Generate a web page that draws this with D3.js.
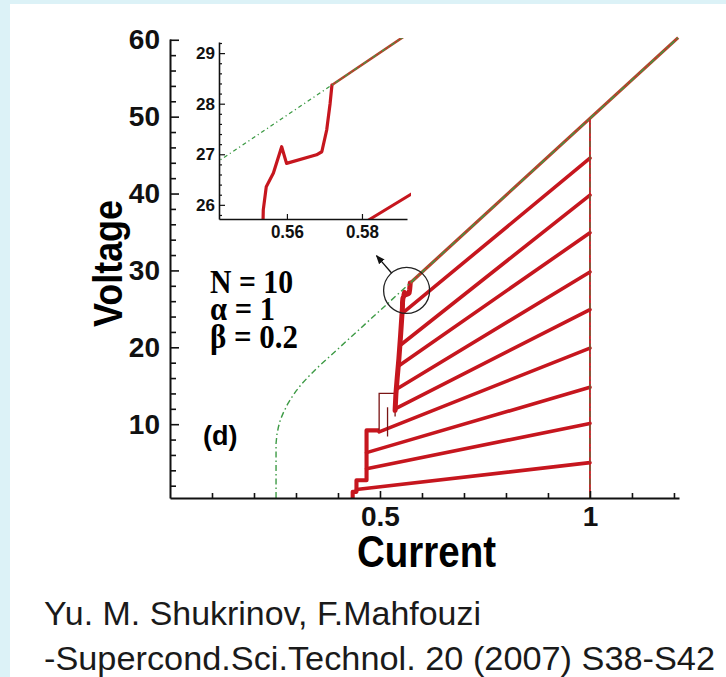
<!DOCTYPE html>
<html>
<head>
<meta charset="utf-8">
<script src="https://cdn.jsdelivr.net/npm/d3@7"></script>
<style>
body { margin: 0; background: #fff; }
svg { display: block; }
</style>
</head>
<body>
<div id="chart"></div>
<script>
// values (N = 10, alpha = 1, beta = 0.2)
let currentTicks = [0.5, 1];
let currentMinor = [0.1, 0.2, 0.3, 0.4, 0.6, 0.7, 0.8, 0.9, 1.1, 1.2];
let voltageTicks = [10, 20, 30, 40, 50, 60];
let voltageMinor = [2, 4, 6, 8, 12, 14, 16, 18, 22, 24, 26, 28, 32, 34, 36, 38, 42, 44, 46, 48, 52, 54, 56, 58];

let insetCurrentTicks = [0.56, 0.58];
let insetVoltageTicks = [26, 27, 28, 29];
let insetVoltageMinor = [25.8, 26.2, 26.4, 26.6, 26.8, 27.2, 27.4, 27.6, 27.8, 28.2, 28.4, 28.6, 28.8, 29.2];

// inner branches (k = 1..9 resistive junctions): start point and value at I = 1
let branchStartI = [0.444, 0.468, 0.468, 0.498, 0.536, 0.541, 0.545, 0.549, 0.553];
let branchStartV = [1.5, 4.2, 6.3, 9.0, 12.0, 14.6, 17.6, 20.3, 24.4];
let branchEndI = 1.0;
let branchEndV = [5.0, 10.1, 14.8, 19.9, 24.9, 29.8, 34.9, 39.8, 44.6];

// thick staircase at the bottom of the fan
let stairI = [0.435, 0.435, 0.444, 0.444, 0.468, 0.468, 0.498];
let stairV = [0.4, 1.2, 1.2, 2.7, 2.7, 9.2, 9.2];

// thin jumps
let thinI = [[0.498, 0.498, 0.536], [0.518, 0.518], [0.536, 0.536]];
let thinV = [[9.2, 14.0, 14.0], [8.4, 12.2], [11.0, 14.0]];

// thick streak up to the outer branch (detail shown in the inset)
let streakI = [0.536, 0.538, 0.541, 0.545, 0.549, 0.552, 0.5535, 0.5537, 0.5545, 0.5555, 0.5564, 0.5586, 0.5599, 0.5679, 0.5693, 0.5706, 0.5715, 0.572];
let streakV = [11.8, 14.0, 16.0, 18.5, 21.5, 24.0, 25.2, 25.9, 26.36, 26.5, 26.63, 27.15, 26.82, 26.99, 27.05, 27.48, 28.0, 28.37];

// outer branch (all junctions resistive) and the return at I = 1
let outerI = [0.572, 1.0, 1.21];
let outerV = [28.37, 49.77, 60.27];
let edgeI = [1.0, 1.0];
let edgeV = [0.4, 49.77];

// decreasing-current sweep (green dash-dot)
let greenI = [0.2525, 0.2525, 0.2545, 0.258, 0.263, 0.27, 0.28, 0.29, 0.30, 0.313, 0.33, 0.35, 0.5405, 0.572, 1.0, 1.21];
let greenV = [0.4, 7.5, 8.6, 9.6, 10.6, 11.5, 12.6, 13.5, 14.3, 15.2, 16.2, 17.3, 26.8, 28.37, 49.77, 60.27];

let width = 726;
let height = 677;
let red = '#c6161e';
let green = '#3d9a45';
let sans = '"Liberation Sans", Arial, sans-serif';
let serif = '"Liberation Serif", "Times New Roman", serif';

let svg = d3.select('#chart').append('svg')
    .attr('width', width)
    .attr('height', height)
    .style('font-family', sans);

svg.append('rect').attr('width', width).attr('height', height).attr('fill', '#dcf2f7');
svg.append('rect').attr('x', 10).attr('y', 4).attr('width', width - 10).attr('height', height - 4).attr('fill', '#fff');

let x = d3.scaleLinear().domain([0, 1.212]).range([170, 679]);
let y = d3.scaleLinear().domain([0.4, 60.1]).range([498, 39]);

function zip(a, b) { return a.map((v, i) => [v, b[i]]); }

function drawCurves(g, sx, sy, w) {
    let line = d3.line().x(d => sx(d[0])).y(d => sy(d[1]));

    // red vertical at I = 1
    g.append('path').attr('d', line(zip(edgeI, edgeV)))
        .attr('fill', 'none').attr('stroke', red).attr('stroke-width', 1.8);

    for (let k = 0; k < branchStartI.length; k++) {
        g.append('path')
            .attr('d', line([[branchStartI[k], branchStartV[k]], [branchEndI, branchEndV[k]]]))
            .attr('fill', 'none').attr('stroke', red)
            .attr('stroke-width', w.branch).attr('stroke-linecap', 'round');
    }
    g.append('path').attr('d', line(zip(stairI, stairV)))
        .attr('fill', 'none').attr('stroke', red).attr('stroke-width', w.branch + 0.5)
        .attr('stroke-linejoin', 'round');
    thinI.forEach((seg, i) => {
        g.append('path').attr('d', line(zip(seg, thinV[i])))
            .attr('fill', 'none').attr('stroke', '#7a1414').attr('stroke-width', 1.3);
    });
    g.append('path').attr('d', line(zip(streakI, streakV)))
        .attr('fill', 'none').attr('stroke', red).attr('stroke-width', w.streak)
        .attr('stroke-linejoin', 'round').attr('stroke-linecap', 'round');
    g.append('path').attr('d', line(zip(outerI, outerV)))
        .attr('fill', 'none').attr('stroke', '#b4432a').attr('stroke-width', w.branch - 0.4);

    // green dash-dot on top
    g.append('path').attr('d', line(zip(greenI, greenV)))
        .attr('fill', 'none').attr('stroke', green).attr('stroke-width', w.green)
        .attr('stroke-dasharray', w.dash);
    g.append('path').attr('d', line(zip(edgeI, edgeV)))
        .attr('fill', 'none').attr('stroke', '#4f7a3a').attr('stroke-width', 1.1)
        .attr('stroke-dasharray', w.dash);
}

// main plot curves
drawCurves(svg.append('g'), x, y, {branch: 3.6, streak: 5, green: 1.4, dash: '6,3,1.5,3'});

// axes (ticks inward)
svg.append('g').attr('class', 'main').attr('transform', 'translate(170,0)')
    .call(d3.axisLeft(y).tickValues(voltageTicks).tickSizeInner(-9).tickSizeOuter(0).tickPadding(10)
        .tickFormat(d3.format('d')));
svg.append('g').attr('class', 'main').attr('transform', 'translate(170,0)')
    .call(d3.axisLeft(y).tickValues(voltageMinor).tickSizeInner(-6).tickSizeOuter(0).tickFormat(''))
    .select('.domain').remove();
svg.append('g').attr('class', 'main').attr('transform', 'translate(0,498)')
    .call(d3.axisBottom(x).tickValues(currentTicks).tickSizeInner(-7).tickSizeOuter(0).tickPadding(8)
        .tickFormat(d3.format('')));
svg.append('g').attr('class', 'main').attr('transform', 'translate(0,498)')
    .call(d3.axisBottom(x).tickValues(currentMinor).tickSizeInner(-5).tickSizeOuter(0).tickFormat(''))
    .select('.domain').remove();

svg.selectAll('.main .domain').attr('stroke', '#111').attr('stroke-width', 2);
svg.selectAll('.main .tick line').attr('stroke', '#111').attr('stroke-width', 1.6);
svg.selectAll('.main .tick text').attr('fill', '#111').attr('font-size', 28).attr('font-weight', 'bold')
    .style('font-family', sans);

svg.append('text')
    .attr('transform', 'translate(122,263.5) rotate(-90)')
    .attr('text-anchor', 'middle')
    .attr('font-size', 40).attr('font-weight', 'bold')
    .attr('textLength', 127).attr('lengthAdjust', 'spacingAndGlyphs')
    .text('Voltage');
svg.append('text')
    .attr('x', 426.5).attr('y', 567)
    .attr('text-anchor', 'middle')
    .attr('font-size', 44).attr('font-weight', 'bold')
    .attr('textLength', 139).attr('lengthAdjust', 'spacingAndGlyphs')
    .text('Current');

svg.append('text').attr('x', 203).attr('y', 445)
    .attr('font-size', 27).attr('font-weight', 'bold').text('(d)');

let params = ['N = 10', 'α = 1', 'β = 0.2'];
let paramY = [293, 320, 348];
let paramW = [83, 65, 88];
params.forEach((p, i) => {
    svg.append('text').attr('x', 210).attr('y', paramY[i])
        .style('font-family', serif)
        .attr('font-size', 34).attr('font-weight', 'bold')
        .attr('textLength', paramW[i]).attr('lengthAdjust', 'spacingAndGlyphs')
        .text(p);
});

// zoom circle and arrow
let cx = x(0.5634), cy = y(27.4), r = 23;
svg.append('circle').attr('cx', cx).attr('cy', cy).attr('r', r)
    .attr('fill', 'none').attr('stroke', '#222').attr('stroke-width', 1.3);
svg.append('defs').append('marker')
    .attr('id', 'head').attr('viewBox', '0 0 10 10').attr('refX', 9).attr('refY', 5)
    .attr('markerWidth', 7).attr('markerHeight', 7).attr('orient', 'auto')
    .append('path').attr('d', 'M0,1 L10,5 L0,9 z').attr('fill', '#111');
let ang = Math.atan2(-15, -13);
svg.append('line')
    .attr('x1', cx + r * Math.cos(ang)).attr('y1', cy + r * Math.sin(ang))
    .attr('x2', cx + 46 * Math.cos(ang)).attr('y2', cy + 46 * Math.sin(ang))
    .attr('stroke', '#111').attr('stroke-width', 1.3).attr('marker-end', 'url(#head)');

// inset
let xi = d3.scaleLinear().domain([0.5419, 0.592]).range([219, 407]);
let yi = d3.scaleLinear().domain([25.72, 29.22]).range([219, 42]);
svg.append('clipPath').attr('id', 'insetclip')
    .append('rect').attr('x', 219).attr('y', 38).attr('width', 192).attr('height', 181);
drawCurves(svg.append('g').attr('clip-path', 'url(#insetclip)'), xi, yi,
    {branch: 3, streak: 3.2, green: 1.3, dash: '4,3,1.2,3'});

svg.append('g').attr('class', 'inset').attr('transform', 'translate(219,0)')
    .call(d3.axisLeft(yi).tickValues(insetVoltageTicks).tickSizeInner(-6).tickSizeOuter(0).tickPadding(4)
        .tickFormat(d3.format('d')));
svg.append('g').attr('class', 'inset').attr('transform', 'translate(219,0)')
    .call(d3.axisLeft(yi).tickValues(insetVoltageMinor).tickSizeInner(-3).tickSizeOuter(0).tickFormat(''))
    .select('.domain').remove();
svg.append('g').attr('class', 'inset insetx').attr('transform', 'translate(0,219)')
    .call(d3.axisBottom(xi).tickValues(insetCurrentTicks).tickSizeInner(-5).tickSizeOuter(0).tickPadding(6)
        .tickFormat(d3.format('.2f')));
svg.selectAll('.inset .domain').attr('stroke', '#111').attr('stroke-width', 1.6);
svg.selectAll('.inset .tick line').attr('stroke', '#111').attr('stroke-width', 1.2);
svg.selectAll('.inset .tick text').attr('fill', '#111').attr('font-size', 17).attr('font-weight', 'bold')
    .style('font-family', sans);
svg.selectAll('.insetx .tick text').attr('font-size', 19)
    .attr('textLength', 33).attr('lengthAdjust', 'spacingAndGlyphs');

// caption
let caption = ['Yu. M. Shukrinov, F.Mahfouzi', '-Supercond.Sci.Technol. 20 (2007) S38-S42'];
let captionY = [625, 670];
let captionW = [437, 671];
caption.forEach((c, i) => {
    svg.append('text').attr('x', 44).attr('y', captionY[i])
        .attr('font-size', 33).attr('fill', '#1a1a1a')
        .attr('textLength', captionW[i]).attr('lengthAdjust', 'spacingAndGlyphs')
        .text(c);
});
</script>
</body>
</html>
